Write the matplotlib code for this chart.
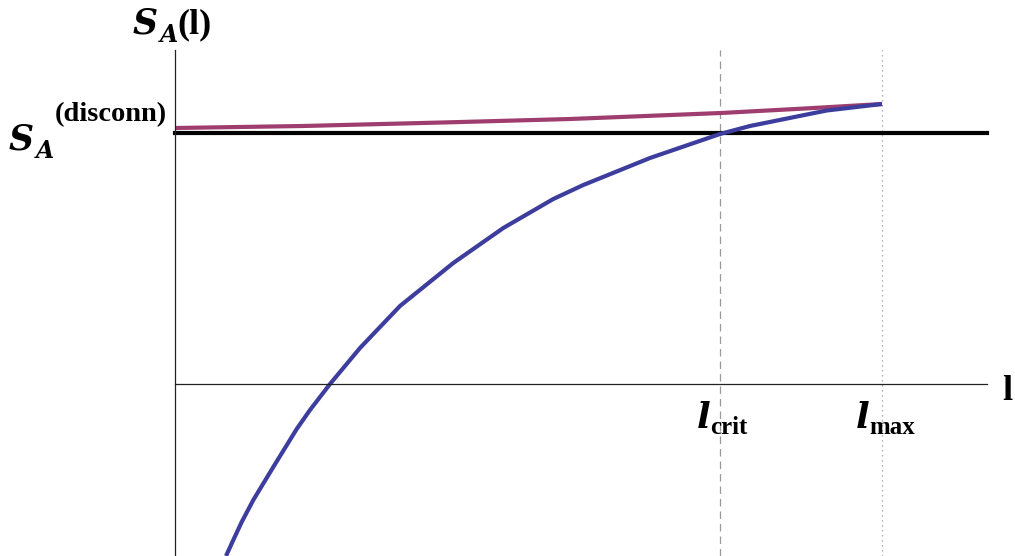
import numpy as np
import matplotlib
matplotlib.use('Agg')
import matplotlib.pyplot as plt

# values (l along x, S_A along y)
l_blue = [0.51, 0.583, 0.667, 0.783, 0.983, 1.217, 1.35, 1.55, 1.85, 2.25,
          2.783, 3.283, 3.783, 4.083, 4.75, 5.45, 5.75, 6.517, 7.07]
s_blue = [-1.72, -1.56, -1.38, -1.16, -0.83, -0.45, -0.26, 0.0, 0.36, 0.78,
          1.21, 1.56, 1.85, 1.99, 2.26, 2.50, 2.58, 2.735, 2.80]
l_purple = [0.0, 1.28, 2.75, 3.95, 5.46, 6.3, 7.07]
s_purple = [2.56, 2.58, 2.617, 2.65, 2.71, 2.755, 2.80]
s_disconn = 2.51
l_crit = 5.45
l_max = 7.07
l_end = 8.12
s_top = 3.34

blue = '#3d3d9e'
purple = '#9e3d6e'
ITAL = dict(family='DejaVu Serif', weight='bold', style='italic')
BOLD = dict(family='Liberation Serif', weight='bold')

fig = plt.figure(figsize=(10.15, 5.56), dpi=100)
ax = fig.add_axes([0, 0, 1, 1])
ax.set_xlim(-1.75, 8.40)
ax.set_ylim(-1.72, 3.84)
ax.set_xticks([])
ax.set_yticks([])

# axes through the origin
for side in ['top', 'right']:
    ax.spines[side].set_visible(False)
ax.spines['left'].set_position(('data', 0))
ax.spines['bottom'].set_position(('data', 0))
ax.spines['left'].set_bounds(-1.72, s_top)
ax.spines['bottom'].set_bounds(0, l_end)
for side in ['left', 'bottom']:
    ax.spines[side].set_linewidth(0.9)
    ax.spines[side].set_color('#222222')

ax.axvline(l_crit, ymax=(s_top + 1.72) / 5.56, color='#999999', lw=0.9, ls=(0, (6, 4)))
ax.axvline(l_max, ymax=(s_top + 1.72) / 5.56, color='#999999', lw=0.9, ls=(0, (1, 3)))

ax.plot([0, l_end], [s_disconn, s_disconn], color='black', lw=3)
ax.plot(l_purple, s_purple, color=purple, lw=3, solid_capstyle='butt')
ax.plot(l_blue, s_blue, color=blue, lw=3, solid_capstyle='butt', solid_joinstyle='round')


def put(px, py, s, size, font):
    # place a text piece by its pixel position (left, baseline)
    ax.text((px - 175) / 100, (384 - py) / 100, s, fontsize=size,
            ha='left', va='baseline', **font)


# title S_A(l)
put(133, 33, 'S', 25, ITAL)
put(160, 42, 'A', 17, ITAL)
put(177, 33, '(l)', 26, BOLD)

# S_A^(disconn) on the y axis
put(9, 149, 'S', 25, ITAL)
put(36, 158, 'A', 17, ITAL)
put(55, 121, '(disconn)', 20.5, BOLD)

# x axis marks
put(697, 428, 'l', 26, ITAL)
put(710, 434, 'crit', 18, BOLD)
put(856, 428, 'l', 26, ITAL)
put(869, 434, 'max', 18, BOLD)
put(1002, 400, 'l', 26, BOLD)

fig.savefig('out.png', dpi=100)
